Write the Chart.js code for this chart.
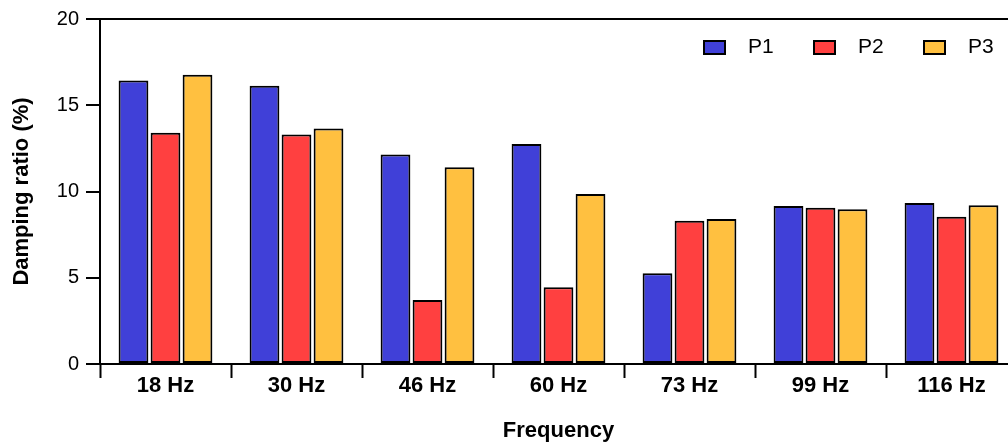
<!DOCTYPE html>
<html>
<head>
<meta charset="utf-8">
<script src="https://cdn.jsdelivr.net/npm/chart.js@4/dist/chart.umd.min.js"></script>
<style>
	html, body { margin: 0; padding: 0; background: #fff; overflow: hidden; }
	.container { position: relative; width: 1024px; height: 446px; }
</style>
</head>
<body>
<div class="container"><canvas id="dampingChart"></canvas></div>
<script>
// Данные графика
const categories = ['18 Hz', '30 Hz', '46 Hz', '60 Hz', '73 Hz', '99 Hz', '116 Hz'];
const seriesNames = ['P1', 'P2', 'P3'];
const p1Values = [16.44, 16.13, 12.14, 12.76, 5.26, 9.16, 9.33];
const p2Values = [13.40, 13.30, 3.71, 4.45, 8.30, 9.06, 8.53];
const p3Values = [16.77, 13.65, 11.41, 9.85, 8.40, 8.97, 9.20];
const yTicks = [0, 5, 10, 15, 20];
const seriesColors = ['rgb(64, 64, 216)', 'rgb(255, 64, 64)', 'rgb(255, 192, 64)'];

const fontFamily = '"Liberation Sans", Arial, sans-serif';

// Легенда внутри области графика
const innerLegend = {
	id: 'innerLegend',
	afterDraw(chart) {
		const ctx = chart.ctx;
		const area = chart.chartArea;
		const startX = area.right - 314;
		const boxY = 40;
		ctx.save();
		chart.data.datasets.forEach((ds, i) => {
			const x = startX + i * 110;
			ctx.fillStyle = ds.backgroundColor;
			ctx.fillRect(x, boxY, 23, 15);
			ctx.lineWidth = 2;
			ctx.strokeStyle = '#000';
			ctx.strokeRect(x + 1, boxY + 1, 21, 13);
			ctx.fillStyle = '#000';
			ctx.font = '21px ' + fontFamily;
			ctx.textBaseline = 'middle';
			ctx.textAlign = 'left';
			ctx.fillText(ds.label, x + 45, boxY + 7);
		});
		ctx.restore();
	}
};

const valueSets = [p1Values, p2Values, p3Values];

new Chart(document.getElementById('dampingChart'), {
	type: 'bar',
	data: {
		labels: categories,
		datasets: seriesNames.map((name, i) => ({
			label: name,
			data: valueSets[i],
			backgroundColor: seriesColors[i],
			borderColor: '#000',
			borderWidth: 2,
			borderSkipped: false,
			categoryPercentage: 0.733,
			barPercentage: 0.93
		}))
	},
	options: {
		responsive: true,
		maintainAspectRatio: false,
		animation: false,
		layout: {
			padding: { left: 0, top: 19, right: 7, bottom: 0 }
		},
		plugins: {
			legend: { display: false },
			tooltip: { enabled: false }
		},
		scales: {
			x: {
				afterFit: (scale) => { scale.height = 82; },
				grid: {
					display: true,
					offset: true,
					drawOnChartArea: false,
					tickLength: 14,
					tickColor: '#000',
					tickWidth: 2
				},
				border: { display: true, color: '#000', width: 2 },
				ticks: {
					color: '#000',
					padding: -5,
					font: { family: fontFamily, size: 22, weight: 'bold' }
				},
				title: {
					display: true,
					text: 'Frequency',
					color: '#000',
					padding: { top: 0, bottom: 2 },
					font: { family: fontFamily, size: 22, weight: 'bold' }
				}
			},
			y: {
				min: 0,
				max: 20,
				afterFit: (scale) => { scale.width = 100; },
				afterBuildTicks: (scale) => {
					scale.ticks = yTicks.map(v => ({ value: v }));
				},
				grid: {
					display: true,
					drawOnChartArea: true,
					color: (c) => (c.tick && c.tick.value === 20) ? '#000' : 'rgba(0,0,0,0)',
					lineWidth: 2,
					tickLength: 14,
					tickColor: '#000',
					tickWidth: 2
				},
				border: { display: true, color: '#000', width: 2 },
				ticks: {
					color: '#000',
					padding: 7,
					font: { family: fontFamily, size: 20 }
				},
				title: {
					display: true,
					text: 'Damping ratio (%)',
					color: '#000',
					padding: { top: 9, bottom: 0 },
					font: { family: fontFamily, size: 22, weight: 'bold' }
				}
			}
		}
	},
	plugins: [innerLegend]
});
</script>
</body>
</html>
